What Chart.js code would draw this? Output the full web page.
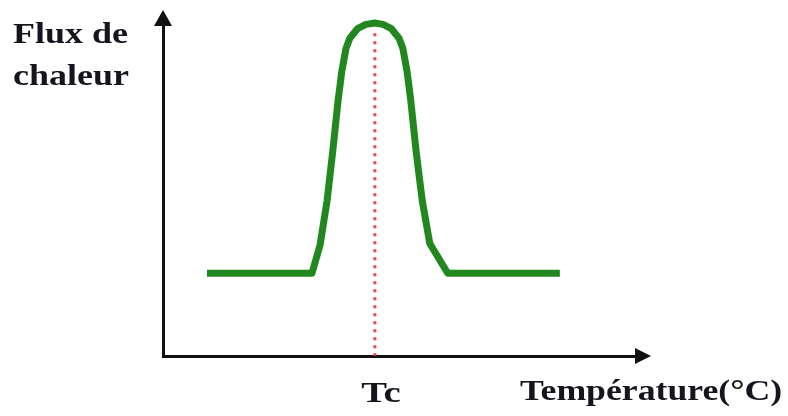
<!DOCTYPE html>
<html>
<head>
<meta charset="utf-8">
<script src="https://cdn.jsdelivr.net/npm/chart.js@4"></script>
<style>
  html, body { margin: 0; padding: 0; background: #fff; }
  #wrap { width: 788px; height: 416px; }
</style>
</head>
<body>
<div id="wrap"><canvas id="c" width="788" height="416"></canvas></div>
<script>
// Temperature (arbitrary units) along the heating run
const temperature = [9.3, 31.5, 33.2, 34.7, 35.9, 37.0, 37.8, 38.7, 39.5, 41.2, 42.9, 44.8, 46.5, 48.2, 49.9, 50.7, 51.6, 52.4, 53.5, 54.8, 56.4, 60.2, 83.9];
// Heat flow (arbitrary units) measured at each temperature
const heatFlow = [25, 25, 33.5, 47, 62, 77, 86, 93, 96, 99, 100.2, 100.6, 100.2, 99, 96, 93, 86, 77, 62, 47, 34, 25, 25];
// Crystallisation temperature marker
const tcValue = 44.8;
const tcSpan = [97.5, 0];
// Text labels
const yTitle = ['Flux de', 'chaleur'];
const xTitle = 'Température(°C)';
const tcLabel = 'Tc';

const peakData = temperature.map((t, i) => ({ x: t, y: heatFlow[i] }));
const tcData = tcSpan.map(v => ({ x: tcValue, y: v }));

const FONT = 'bold 30px "Liberation Serif", "DejaVu Serif", serif';
const INK = '#15151f';

function drawStretched(ctx, text, x, y, sx, align) {
  ctx.save();
  ctx.font = FONT;
  ctx.fillStyle = INK;
  ctx.textBaseline = 'alphabetic';
  const w = ctx.measureText(text).width * sx;
  let left = x;
  if (align === 'center') left = x - w / 2;
  ctx.translate(left, y);
  ctx.scale(sx, 1);
  ctx.textAlign = 'left';
  ctx.fillText(text, 0, 0);
  ctx.restore();
}

const decorations = {
  id: 'decorations',
  afterDraw(chart) {
    const { ctx, chartArea: a, scales } = chart;
    ctx.save();
    ctx.fillStyle = '#111';
    // arrow head on the vertical axis
    ctx.beginPath();
    ctx.moveTo(a.left, a.top - 15);
    ctx.lineTo(a.left - 9, a.top + 1);
    ctx.lineTo(a.left + 9, a.top + 1);
    ctx.closePath();
    ctx.fill();
    // arrow head on the horizontal axis
    ctx.beginPath();
    ctx.moveTo(a.right + 15, a.bottom);
    ctx.lineTo(a.right - 1, a.bottom - 8);
    ctx.lineTo(a.right - 1, a.bottom + 8);
    ctx.closePath();
    ctx.fill();
    ctx.restore();

    drawStretched(ctx, yTitle[0], 13, 43, 1.2, 'left');
    drawStretched(ctx, yTitle[1], 13, 85, 1.2, 'left');
    drawStretched(ctx, xTitle, 520, 400, 1.19, 'left');
    drawStretched(ctx, tcLabel, scales.x.getPixelForValue(tcValue) + 6, 402, 1.29, 'center');
  }
};

new Chart(document.getElementById('c'), {
  type: 'line',
  data: {
    datasets: [
      {
        data: tcData,
        borderColor: 'rgba(228, 50, 60, 0.9)',
        borderWidth: 3,
        borderDash: [3, 5],
        pointRadius: 0,
        fill: false,
        order: 2
      },
      {
        data: peakData,
        borderColor: '#23871f',
        borderWidth: 7,
        borderJoinStyle: 'round',
        borderCapStyle: 'butt',
        tension: 0,
        pointRadius: 0,
        fill: false,
        clip: false,
        order: 1
      }
    ]
  },
  options: {
    responsive: false,
    animation: false,
    devicePixelRatio: 1,
    layout: { padding: { left: 163, top: 25, right: 152, bottom: 60 } },
    plugins: { legend: { display: false }, tooltip: { enabled: false } },
    scales: {
      x: {
        type: 'linear', min: 0, max: 100,
        grid: { display: false, drawTicks: false },
        border: { display: true, color: '#111', width: 3 },
        ticks: { display: false }
      },
      y: {
        type: 'linear', min: 0, max: 100,
        grid: { display: false, drawTicks: false },
        border: { display: true, color: '#111', width: 3 },
        ticks: { display: false }
      }
    }
  },
  plugins: [decorations]
});
</script>
</body>
</html>
